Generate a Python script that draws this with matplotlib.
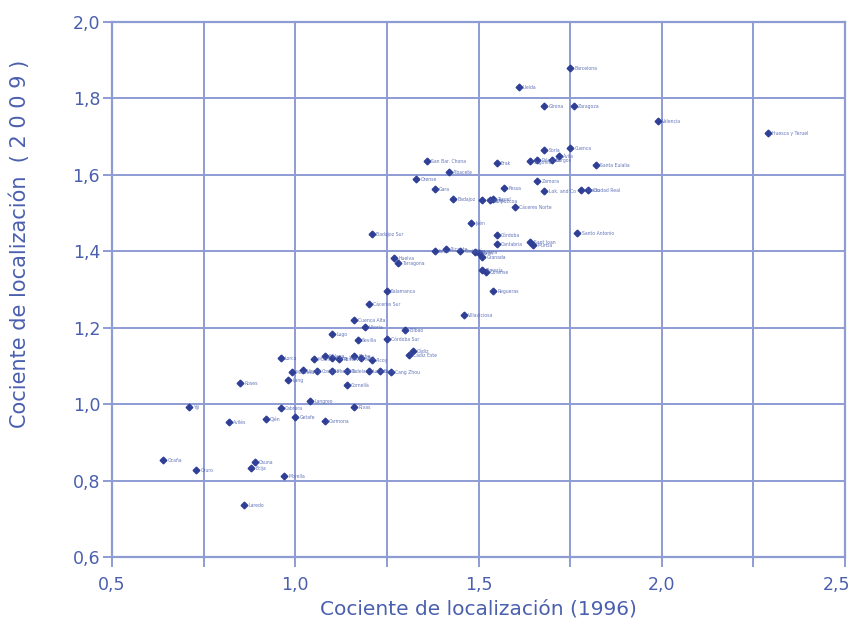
import matplotlib
matplotlib.use("Agg")
import matplotlib.pyplot as plt
from matplotlib.ticker import MultipleLocator, FuncFormatter

# Cociente de localizacion por territorio, 1996 frente a 2009
nombres = [
    "Huesca y Teruel", "Valencia", "Barcelona", "Lleida", "Zaragoza", "Girona",
    "Cuenca", "Soria", "Palencia", "Burgos", "Ávila", "Segovia", "Santa Eulalia",
    "San Bar. Chona", "Erak", "Albacete", "Orense", "Gara", "Zamora", "Fessa",
    "Lok. and Co", "Ciudad Real", "Toledo", "Badajoz", "Cáceres", "Guipúzcoa",
    "Teruel", "Cáceres Norte", "Jaén", "Córdoba", "Badajoz Sur", "Cantabria",
    "Santo Antonio", "Sant Joan", "Murcia", "Ibiza", "Alicante", "Castellón",
    "Navarra", "León", "Huelva", "Tarragona", "Granada", "Almería", "Ourense",
    "Salamanca", "Regueras", "Cáceres Sur", "Cuenca Alta", "Villaviciosa",
    "Vitoria", "Bilbao", "Lugo", "Sevilla", "Córdoba Sur", "Cádiz", "Cádiz Este",
    "Lorca", "Málaga", "Cang Yan", "Pontevedra", "Elche", "Olot", "Alcoy",
    "Cang Zhou", "Manresa", "Lang", "Roses", "Cornellà", "Langreo", "Yiji",
    "Cabrera", "Rivas", "Avilés", "Ojén", "Getafe", "Carmona", "Coslada",
    "Ocaña", "Oruro", "Morella", "Laredo",
    "Osuna", "Écija", "Marbella", "Tudela", "Lucena", "Baza", "Utrera", "Motril",
]
cl_1996 = [
    2.29, 1.99, 1.75, 1.61, 1.76, 1.68,
    1.75, 1.68, 1.66, 1.70, 1.72, 1.64, 1.82,
    1.36, 1.55, 1.42, 1.33, 1.38, 1.66, 1.57,
    1.68, 1.80, 1.78, 1.43, 1.51, 1.53,
    1.54, 1.60, 1.48, 1.55, 1.21, 1.55,
    1.77, 1.64, 1.65, 1.38, 1.41, 1.45,
    1.49, 1.50, 1.27, 1.28, 1.51, 1.51, 1.52,
    1.25, 1.54, 1.20, 1.16, 1.46,
    1.19, 1.30, 1.10, 1.17, 1.25, 1.32, 1.31,
    0.96, 1.08, 1.10, 1.12, 1.16, 1.18, 1.21,
    1.26, 0.99, 0.98, 0.85, 1.14, 1.04, 0.71,
    0.96, 1.16, 0.82, 0.92, 1.00, 1.08, 1.06,
    0.64, 0.73, 0.97, 0.86,
    0.89, 0.88, 1.10, 1.14, 1.20, 1.23, 1.02, 1.05,
]
cl_2009 = [
    1.71, 1.74, 1.88, 1.83, 1.78, 1.78,
    1.67, 1.665, 1.64, 1.64, 1.65, 1.635, 1.626,
    1.636, 1.63, 1.607, 1.589, 1.563, 1.584, 1.566,
    1.558, 1.560, 1.560, 1.537, 1.535, 1.533,
    1.538, 1.516, 1.474, 1.443, 1.445, 1.42,
    1.448, 1.424, 1.416, 1.40, 1.405, 1.402,
    1.398, 1.395, 1.382, 1.370, 1.385, 1.35, 1.345,
    1.296, 1.296, 1.262, 1.220, 1.233,
    1.202, 1.194, 1.184, 1.168, 1.170, 1.140, 1.128,
    1.121, 1.126, 1.120, 1.118, 1.125, 1.122, 1.115,
    1.084, 1.084, 1.063, 1.055, 1.050, 1.008, 0.992,
    0.990, 0.992, 0.953, 0.961, 0.966, 0.956, 1.086,
    0.854, 0.828, 0.812, 0.736,
    0.849, 0.833, 1.086, 1.086, 1.086, 1.086, 1.088, 1.118,
]

x_min, x_max = 0.5, 2.5
y_min, y_max = 0.6, 2.0

azul_texto = "#4a5fae"
azul_rejilla = "#8e9cd4"
azul_punto = "#2f3f96"

plt.rcParams["font.family"] = ["DejaVu Sans"]

fig = plt.figure(figsize=(8.57, 6.30), dpi=100)
ax = fig.add_axes([0.1307, 0.1159, 0.8553, 0.8492])

ax.plot(cl_1996, cl_2009, linestyle="none", marker="D", markersize=3.4,
        color=azul_punto, zorder=3)
for n, x, y in zip(nombres, cl_1996, cl_2009):
    ax.annotate(n, (x, y), xytext=(3, -1.5), textcoords="offset points",
                fontsize=3.3, color=azul_texto, alpha=0.85)

ax.set_xlim(x_min, x_max)
ax.set_ylim(y_min, y_max)
ax.xaxis.set_major_locator(MultipleLocator(0.5))
ax.xaxis.set_minor_locator(MultipleLocator(0.25))
ax.yaxis.set_major_locator(MultipleLocator(0.2))

def coma(v, p=None):
    return f"{v:.1f}".replace(".", ",")

# the label at the right end is drawn separately, right-aligned
ax.xaxis.set_major_formatter(FuncFormatter(lambda v, p: "" if v >= x_max else coma(v)))
ax.yaxis.set_major_formatter(FuncFormatter(coma))
ax.annotate(coma(x_max), (x_max, 0), xycoords=ax.get_xaxis_transform(),
            xytext=(4, -14), textcoords="offset points", ha="right", va="top",
            fontsize=12.5, color=azul_texto)

ax.grid(True, which="both", color=azul_rejilla, linewidth=1.4)
ax.set_axisbelow(True)
for s in ax.spines.values():
    s.set_color(azul_rejilla)
    s.set_linewidth(1.6)

ax.tick_params(axis="both", which="both", colors=azul_rejilla, width=1.4,
               labelcolor=azul_texto, labelsize=12.5)
ax.tick_params(axis="x", which="both", length=7, pad=7)
ax.tick_params(axis="y", length=6.5, pad=2)

ax.set_xlabel("Cociente de localización (1996)", fontsize=14.5,
              color=azul_texto, labelpad=4)
ax.set_ylabel("Cociente de localización  ( 2 0 0 9 )", fontsize=15,
              color=azul_texto)
ax.yaxis.set_label_coords(-0.112, 0.585)

fig.savefig("out.png", dpi=100, facecolor="white")
